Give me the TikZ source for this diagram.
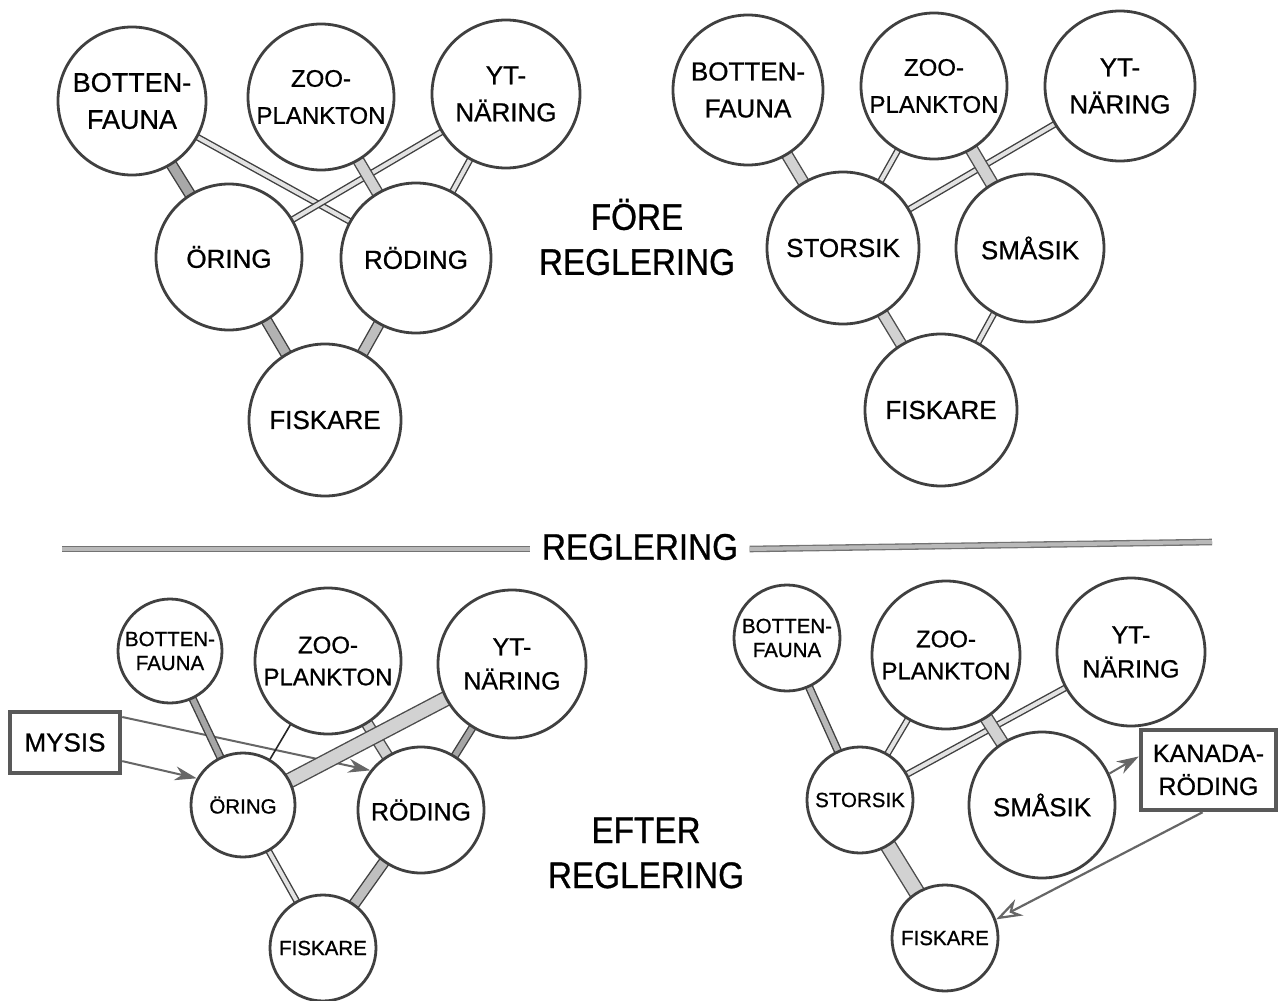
\documentclass[tikz,border=0pt]{standalone}
\usepackage{fontspec}
\setmainfont{Liberation Sans}[FakeBold=0.8]
\newfontfamily\titlefont{Liberation Sans}[FakeStretch=0.9,FakeBold=0.8]
\usetikzlibrary{arrows.meta,backgrounds,calc}
\begin{document}
\begin{tikzpicture}[x=1pt,y=-1pt,
  circ/.style={circle,draw=black!75,line width=2.8pt,fill=white,inner sep=0pt,align=center,
    font=\fontsize{26}{37}\selectfont},
  zoocirc/.style={circ,font=\fontsize{24}{37}\selectfont},
  smallcirc/.style={circ,font=\fontsize{20.5}{24}\selectfont},
  boxnode/.style={draw=black!65,line width=4.5pt,fill=white,inner sep=0pt,align=center,
    font=\fontsize{26}{32}\selectfont},
  title/.style={align=center,font=\titlefont\fontsize{37}{45}\selectfont},
  bandthin/.style={draw=black!75,line width=1.4pt,double=gray!22,double distance=4pt},
  banddark/.style={draw=black!75,line width=1.4pt,double=gray!70,double distance=5.5pt},
  bandmid/.style={draw=black!75,line width=1.4pt,double=gray!60,double distance=9pt},
  bandlight/.style={draw=black!70,line width=1.4pt,double=gray!35,double distance=9.5pt},
  bandwide/.style={draw=black!70,line width=1.4pt,double=gray!35,double distance=13pt},
  single/.style={draw=black!85,line width=1.6pt},
  rule/.style={draw=black!55,line width=1.3pt,double=gray!55,double distance=4pt},
  arr/.style={draw=black!60,line width=2pt,-{Stealth[length=22pt,width=14pt,inset=7pt]}},
  arropen/.style={draw=black!60,line width=2.2pt,-{Stealth[length=26pt,width=18pt,inset=8pt,open,line width=2.2pt]}}
]
\path[use as bounding box] (0,0) rectangle (1278,1001);

% ---------------- top left ----------------
\node[circ,minimum size=148pt,font=\fontsize{27}{37}\selectfont] (bot1) at (132,101) {BOTTEN-\\FAUNA};
\node[zoocirc,minimum size=146pt] (zoo1) at (321,97) {ZOO-\\PLANKTON};
\node[circ,minimum size=148pt] (yt1) at (506,94) {YT-\\NÄRING};
\node[circ,minimum size=146pt] (ori1) at (229,257) {ÖRING};
\node[circ,minimum size=150pt] (rod1) at (416,258) {RÖDING};
\node[circ,minimum size=152pt] (fis1) at (325,420) {FISKARE};

% ---------------- top right ----------------
\node[circ,minimum size=150pt] (bot2) at (748,90) {BOTTEN-\\FAUNA};
\node[zoocirc,minimum size=146pt] (zoo2) at (934,86) {ZOO-\\PLANKTON};
\node[circ,minimum size=150pt] (yt2) at (1120,86) {YT-\\NÄRING};
\node[circ,minimum size=152pt] (sto2) at (843,248) {STORSIK};
\node[circ,minimum size=148pt] (sma2) at (1030,248) {SMÅSIK};
\node[circ,minimum size=152pt] (fis2) at (941,410) {FISKARE};

% ---------------- titles ----------------
\node[title] (fore) at (637,237) {FÖRE\\REGLERING};
\node[title] (regmid) at (640,547) {REGLERING};
\node[title] (efter) at (646,853) {EFTER\\REGLERING};
\coordinate (ruleL) at (62,549);
\coordinate (ruleR) at (1212,542);

% ---------------- bottom left ----------------
\node[smallcirc,minimum size=104pt] (bot3) at (170,651) {BOTTEN-\\FAUNA};
\node[zoocirc,minimum size=146pt,font=\fontsize{24}{32}\selectfont] (zoo3) at (328,661) {ZOO-\\PLANKTON};
\node[circ,minimum size=148pt,font=\fontsize{25}{34}\selectfont] (yt3) at (512,664) {YT-\\NÄRING};
\node[smallcirc,minimum size=104pt] (ori3) at (243,805) {ÖRING};
\node[circ,minimum size=126pt,font=\fontsize{25}{30}\selectfont] (rod3) at (421,810) {RÖDING};
\node[smallcirc,minimum size=106pt] (fis3) at (323,948) {FISKARE};
\node[boxnode,minimum width=110pt,minimum height=61pt] (mysis) at (65,742.5) {MYSIS};

% ---------------- bottom right ----------------
\node[smallcirc,minimum size=106pt] (bot4) at (787,638) {BOTTEN-\\FAUNA};
\node[zoocirc,minimum size=148pt,font=\fontsize{24}{32}\selectfont] (zoo4) at (946,655) {ZOO-\\PLANKTON};
\node[circ,minimum size=148pt,font=\fontsize{25}{34}\selectfont] (yt4) at (1131,652) {YT-\\NÄRING};
\node[smallcirc,minimum size=106pt] (sto4) at (860,800) {STORSIK};
\node[circ,minimum size=146pt] (sma4) at (1042,805) {SMÅSIK};
\node[smallcirc,minimum size=106pt] (fis4) at (945,938) {FISKARE};
\node[boxnode,minimum width=135pt,minimum height=80pt,font=\fontsize{25}{33}\selectfont] (kan) at (1208.5,770) {KANADA-\\RÖDING};

\begin{scope}[on background layer]
  % rule
  \draw[rule] (ruleL) -- ([xshift=-8pt,yshift=-2pt]regmid.west);
  \draw[rule] ([xshift=8pt,yshift=-2pt]regmid.east) -- (ruleR);
  % arrows bottom left
  \draw[arr] (mysis.24) -- (rod3.142);
  \draw[arr] (mysis.-18) -- (ori3.150);
  % top left connectors
  \draw[bandthin] (bot1.center) -- (rod1.center);
  \draw[bandthin] (yt1.center) -- (ori1.center);
  \draw[bandthin] (yt1.center) -- (rod1.center);
  \draw[bandmid,double=gray!68] (bot1.center) -- (ori1.center);
  \draw[bandlight] (zoo1.center) -- (rod1.center);
  \draw[bandmid] (ori1.center) -- (fis1.center);
  \draw[bandmid,double=gray!50] (rod1.center) -- (fis1.center);
  % top right connectors
  \draw[bandthin] (zoo2.center) -- (sto2.center);
  \draw[bandthin] (yt2.center) -- (sto2.center);
  \draw[bandlight] (bot2.center) -- (sto2.center);
  \draw[bandlight,double distance=11pt] (zoo2.center) -- (sma2.center);
  \draw[bandlight] (sto2.center) -- (fis2.center);
  \draw[bandthin] (sma2.center) -- (fis2.center);
  % bottom left connectors
  \draw[banddark] (bot3.center) -- (ori3.center);
  \draw[single] (zoo3.center) -- (ori3.center);
  \draw[bandlight] (zoo3.center) -- (rod3.center);
  \draw[bandwide] (yt3.center) -- (ori3.center);
  \draw[banddark] (yt3.center) -- (rod3.center);
  \draw[bandthin] (ori3.center) -- (fis3.center);
  \draw[bandmid,double=gray!50] (rod3.center) -- (fis3.center);
  % bottom right connectors
  \draw[banddark,double=gray!55] (bot4.center) -- (sto4.center);
  \draw[bandthin] (zoo4.center) -- (sto4.center);
  \draw[bandthin] (yt4.center) -- (sto4.center);
  \draw[bandlight,double distance=11pt] (zoo4.center) -- (sma4.center);
  \draw[bandwide,double distance=14pt] (sto4.center) -- (fis4.center);
\end{scope}

% arrows bottom right (end on node borders)
\draw[arr] (sma4.25) -- (kan.169);
\draw[arropen] (kan.262) -- (fis4.20);
\end{tikzpicture}
\end{document}
